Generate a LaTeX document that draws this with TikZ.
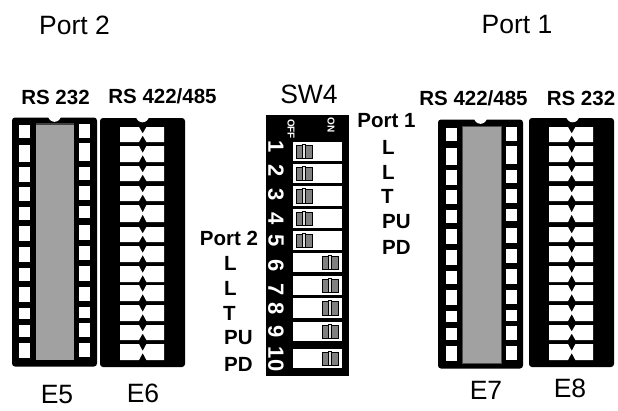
\documentclass[tikz,border=0pt]{standalone}
\usepackage{fontspec}
\setmainfont{Liberation Sans}
\usetikzlibrary{positioning}

\newcommand{\leftrows}{125/138,145/162,167/182,187/201,207/220,226/241,247/262,268/281,287/302,308/319,325/337,343/358}
\newcommand{\rightrows}{124/138,143/161,167/180,186/200,206/218,225/240,246/260,266/281,287/301,307/318,323/337,343/357}
\newcommand{\xrows}{127/142,146/162,166/181,186/201,205/222,227/242,246/262,266/282,285/301,305/321,325/340,344/360}

\tikzset{
  chipbody/.style={fill=black,rounded corners=3pt,minimum width=85pt,minimum height=249pt,inner sep=0pt},
  chipnotch/.style={circle,fill=white,minimum size=13pt,inner sep=0pt},
  title/.style={font=\fontsize{26.5}{26.5}\selectfont,inner sep=0pt},
  tag/.style={font=\fontsize{20.5}{20.5}\selectfont\bfseries,inner sep=0pt},
  dipnum/.style={font=\fontsize{22}{22}\selectfont\bfseries,text=white,rotate=-90,inner sep=0pt},
  dipmark/.style={font=\fontsize{10}{10}\selectfont\bfseries,text=white,rotate=-90,inner sep=0pt},
  strip/.style={fill=black!37,draw=black!70,line width=.8pt},
  slider/.style={fill=black!50,draw=black,line width=.8pt}
}

\begin{document}
\begin{tikzpicture}[x=1pt,y=-1pt]
  \useasboundingbox (0,0) rectangle (618,410);

  % headers
  \node[title] (port2top) at (74.5,25) {Port 2};
  \node[title] (port1top) at (517,25) {Port 1};
  \node[title] (sw4) at (309,94) {SW4};

  % E5
  \node[chipbody] (e5) at (54.5,242) {};
  \node[chipnotch] (e5notch) at ([yshift=2pt]e5.north) {};
  \fill[black!37] (36,125) rectangle (74,360);
  \fill[black!75] (36,123) rectangle (74,125);
  \foreach \t/\b in \leftrows
    \fill[white] (19,\t) rectangle (30,\b);
  \foreach \t/\b in \rightrows
    \fill[white] (79,\t) rectangle (90,\b);

  % E6
  \node[chipbody] (e6) at (142.5,242.5) {};
  \node[chipnotch] (e6notch) at ([yshift=2pt]e6.north) {};
  \foreach \t/\b in \xrows
    \fill[white] (120,\t) -- (139,\t) -- (142.7,{(\t+\b)/2-1}) -- (146.4,\t) -- (164,\t)
      -- (164,\b) -- (146.4,\b) -- (142.7,{(\t+\b)/2+1}) -- (139,\b) -- (120,\b) -- cycle;

  % E7
  \node[chipbody] (e7) at (480.5,244) {};
  \node[chipnotch] (e7notch) at ([yshift=2pt]e7.north) {};
  \filldraw[strip] (462,126) rectangle (501,363);
  \begin{scope}[shift={(427,2.5)}]
    \foreach \t/\b in \leftrows
      \fill[white] (19,\t) rectangle (30,\b);
    \foreach \t/\b in \rightrows
      \fill[white] (79,\t) rectangle (90,\b);
  \end{scope}

  % E8
  \node[chipbody] (e8) at (571.5,242.5) {};
  \node[chipnotch] (e8notch) at ([xshift=1.2pt,yshift=2pt]e8.north) {};
  \begin{scope}[shift={(429,0)}]
    \foreach \t/\b in \xrows
      \fill[white] (120,\t) -- (139,\t) -- (142.7,{(\t+\b)/2-1}) -- (146.4,\t) -- (164,\t)
        -- (164,\b) -- (146.4,\b) -- (142.7,{(\t+\b)/2+1}) -- (139,\b) -- (120,\b) -- cycle;
  \end{scope}

  % SW4
  \fill[black] (266,115) rectangle (349,376);
  \node[dipmark] (off) at (291,129) {OFF};
  \node[dipmark] (on) at (331,125) {ON};
  \foreach \t/\b/\n/\y in {142/161/1/147,164/183/2/171,186/206/3/195,209/228/4/219,231/250/5/241}{
    \fill[white] (293,\t) rectangle (342,\b);
    \filldraw[slider] (296,\t+3) rectangle (312,\b-3);
    \filldraw[fill=black!12,draw=black,line width=.6pt] (302.5,\t+2.5) rectangle (305.5,\b-2.5);
    \node[dipnum] (num\n) at (276,\y) {\n};
  }
  \foreach \t/\b/\n/\y in {253/272/6/266,276/295/7/290,298/318/8/309,322/341/9/332,349/368/10/359}{
    \fill[white] (293,\t) rectangle (342,\b);
    \filldraw[slider] (322,\t+3) rectangle (338,\b-3);
    \filldraw[fill=black!12,draw=black,line width=.6pt] (328.5,\t+2.5) rectangle (331.5,\b-2.5);
    \node[dipnum] (num\n) at (276,\y) {\n};
  }

  % labels
  \node[tag] (rs232a) at (55.5,97) {RS 232};
  \node[tag] (rs422a) at (162.5,96) {RS 422/485};
  \node[tag] (rs422b) at (473.5,98) {RS 422/485};
  \node[tag] (rs232b) at (581,98) {RS 232};

  \node[tag] (port1) at (386.5,121) {Port 1};
  \node[tag,anchor=west] (p1l1) at (382,147) {L};
  \node[tag,anchor=west] (p1l2) at (382,172) {L};
  \node[tag,anchor=west] (p1t) at (381,196) {T};
  \node[tag,anchor=west] (p1pu) at (382,222) {PU};
  \node[tag,anchor=west] (p1pd) at (382,247) {PD};

  \node[tag] (port2) at (229,238) {Port 2};
  \node[tag,anchor=west] (p2l1) at (224,263) {L};
  \node[tag,anchor=west] (p2l2) at (224,288) {L};
  \node[tag,anchor=west] (p2t) at (223,313) {T};
  \node[tag,anchor=west] (p2pu) at (224,338) {PU};
  \node[tag,anchor=west] (p2pd) at (224,364) {PD};

  \node[title] (e5name) at (57,395) {E5};
  \node[title] (e6name) at (143,393) {E6};
  \node[title] (e7name) at (486,390) {E7};
  \node[title] (e8name) at (570,388) {E8};
\end{tikzpicture}
\end{document}
